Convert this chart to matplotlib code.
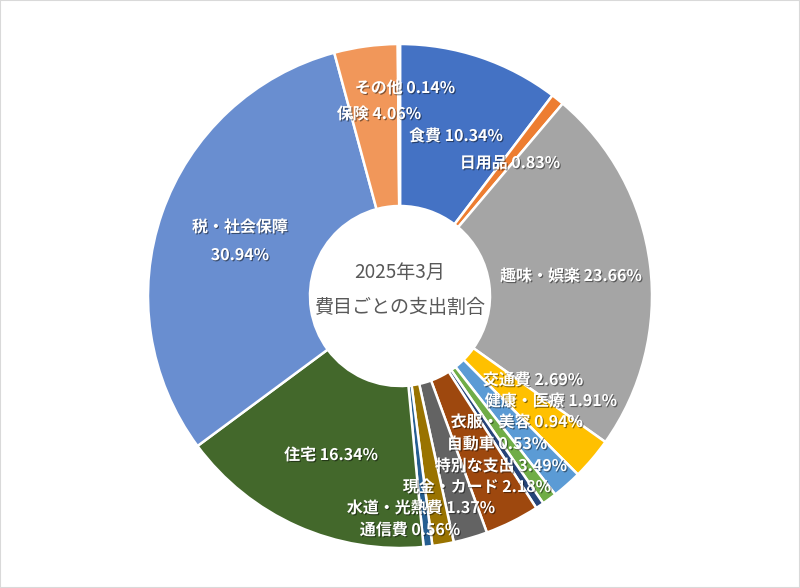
import matplotlib
matplotlib.use("Agg")
import matplotlib.pyplot as plt
import matplotlib.patheffects as pe

plt.rcParams['font.family'] = ['Noto Sans CJK JP', 'DejaVu Sans']

# data (clockwise from top)
categories = ["食費", "日用品", "趣味・娯楽", "交通費", "健康・医療", "衣服・美容",
              "自動車", "特別な支出", "現金・カード", "水道・光熱費", "通信費",
              "住宅", "税・社会保障", "保険", "その他"]
shares = [10.34, 0.83, 23.66, 2.69, 1.91, 0.94, 0.53, 3.49, 2.18, 1.37, 0.56,
          16.34, 30.94, 4.06, 0.14]
colors = ["#4472C4", "#ED7D31", "#A5A5A5", "#FFC000", "#5B9BD5", "#70AD47",
          "#264478", "#9E480E", "#636363", "#997300", "#255E91", "#43682B",
          "#698ED0", "#F1975A", "#B7B7B7"]
title_lines = ["2025年3月", "費目ごとの支出割合"]

# label centres in pixel coords (x, y from top), placed by hand like the original
label_pos = [(456, 136), (510, 163), (571, 276), (533, 380), (551, 401),
             (517, 422), (497, 444), (501, 466), (477, 487), (421, 508),
             (410, 530), (331, 455), (240, 241), (379, 114), (405, 88)]

W, H = 800, 588
fig = plt.figure(figsize=(8, 5.88), dpi=100)
ax = fig.add_axes([0, 0, 1, 1])

cx, cy = 400, 296
r_out, r_in = 252, 90
ax.pie(shares, colors=colors, startangle=90, counterclock=False,
       center=(cx, H - cy), radius=r_out, frame=True,
       wedgeprops=dict(width=r_out - r_in, edgecolor="white", linewidth=1.8))
ax.set_xlim(0, W)
ax.set_ylim(0, H)
ax.axis("off")

shadow = [pe.SimplePatchShadow(offset=(0.8, -0.8), shadow_rgbFace="black", alpha=0.45),
          pe.Normal()]
for cat, val, (px, py) in zip(categories, shares, label_pos):
    if cat == "税・社会保障":
        txt = "%s\n\n%.2f%%" % (cat, val)
        ls = 0.85
    else:
        txt = "%s %.2f%%" % (cat, val)
        ls = 1.2
    ax.text(px, H - py, txt, ha="center", va="center", color="white",
            fontsize=11.5, fontweight="bold", linespacing=ls, path_effects=shadow)

ax.text(cx, H - 272, title_lines[0], ha="center", va="center",
        color="#595959", fontsize=13.7)
ax.text(cx, H - 307, title_lines[1], ha="center", va="center",
        color="#595959", fontsize=13.7)

# thin light-grey frame like the chart area border
fig.patches.append(plt.Rectangle((0, 0), 1, 1, transform=fig.transFigure,
                                 fill=False, edgecolor="#D9D9D9", linewidth=1.5))

fig.savefig("out.png", dpi=100, facecolor="white")
